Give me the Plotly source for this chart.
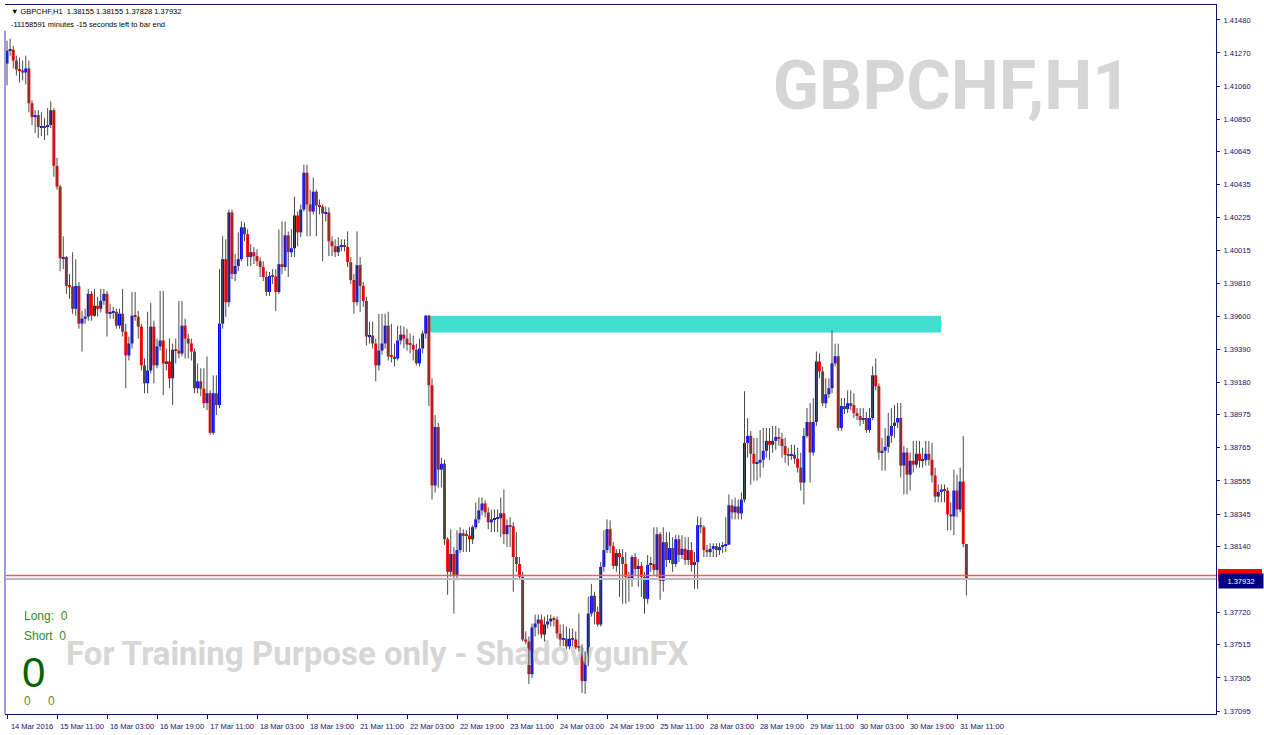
import plotly.graph_objects as go

# ---------------- data (GBPCHF H1) ----------------
first_open = 1.41203
closes = [
1.41285,1.41291,1.41222,1.41165,1.41159,1.41146,1.41172,1.40951,1.40863,1.40876,
1.40800,1.40806,1.40800,1.40813,1.40907,1.40554,1.40422,1.39968,1.39975,1.39792,
1.39788,1.39647,1.39792,1.39553,1.39584,1.39597,1.39742,1.39603,1.39666,1.39647,
1.39697,1.39742,1.39616,1.39622,1.39628,1.39540,1.39616,1.39502,1.39351,1.39427,
1.39603,1.39597,1.39534,1.39288,1.39175,1.39256,1.39534,1.39288,1.39408,1.39446,
1.39301,1.39313,1.39206,1.39387,1.39382,1.39363,1.39540,1.39458,1.39427,1.39376,
1.39143,1.39187,1.39140,1.39048,1.39111,1.38860,1.39111,1.39036,1.39553,1.39962,
1.39689,1.40258,1.39868,1.39918,1.39962,1.40164,1.40120,1.39975,1.40006,1.39981,
1.39949,1.39912,1.39849,1.39754,1.39855,1.39852,1.39754,1.39930,1.39912,1.40113,
1.40006,1.40031,1.40239,1.40132,1.40277,1.40510,1.40309,1.40264,1.40390,1.40302,
1.40296,1.40252,1.40258,1.40075,1.40044,1.40006,1.40044,1.40050,1.40040,1.39943,
1.39830,1.39689,1.39924,1.39792,1.39697,1.39471,1.39477,1.39427,1.39288,1.39382,
1.39427,1.39540,1.39345,1.39342,1.39332,1.39446,1.39483,1.39458,1.39420,1.39418,
1.39387,1.39301,1.39395,1.39490,1.39603,1.39162,1.38526,1.38897,1.38626,1.38664,
1.38185,1.37978,1.38091,1.37959,1.38116,1.38223,1.38211,1.38208,1.38185,1.38261,
1.38311,1.38368,1.38412,1.38355,1.38292,1.38311,1.38315,1.38318,1.38349,1.38217,
1.38274,1.38267,1.38072,1.38028,1.37946,1.37549,1.37536,1.37329,1.37625,1.37650,
1.37675,1.37581,1.37644,1.37663,1.37681,1.37675,1.37587,1.37549,1.37554,1.37505,
1.37554,1.37549,1.37499,1.37495,1.37285,1.37410,1.37713,1.37826,1.37725,1.37644,
1.38010,1.38116,1.38249,1.38141,1.38016,1.38097,1.38072,1.38028,1.37946,1.37927,
1.38072,1.37996,1.38016,1.37946,1.37807,1.38022,1.38028,1.37990,1.38217,1.37921,
1.38166,1.38053,1.38129,1.38028,1.38185,1.38085,1.38124,1.38053,1.38116,1.38022,
1.38040,1.38274,1.38261,1.38116,1.38103,1.38124,1.38141,1.38116,1.38135,1.38148,
1.38150,1.38400,1.38355,1.38393,1.38349,1.38437,1.38796,1.38841,1.38727,1.38664,
1.38670,1.38689,1.38746,1.38809,1.38784,1.38809,1.38834,1.38822,1.38776,1.38721,
1.38714,1.38721,1.38696,1.38639,1.38545,1.38841,1.38929,1.38735,1.38929,1.39313,
1.39250,1.39048,1.39105,1.39143,1.39301,1.39346,1.38891,1.39030,1.39011,1.39048,
1.39036,1.38985,1.38967,1.38941,1.38954,1.38878,1.38954,1.39225,1.39156,1.38735,
1.38746,1.38771,1.38841,1.38904,1.38925,1.38954,1.38652,1.38735,1.38595,1.38683,
1.38658,1.38727,1.38683,1.38687,1.38727,1.38689,1.38589,1.38456,1.38485,1.38500,
1.38494,1.38343,1.38330,1.38494,1.38374,1.38551,1.38155,1.37932]

highs = [
1.41348,1.41361,1.41316,1.41253,1.41241,1.41222,1.41253,1.41222,1.40970,1.40907,
1.40907,1.40894,1.40857,1.40920,1.40964,1.40920,1.40605,1.40434,1.40107,1.39981,
1.39867,1.40006,1.39962,1.39817,1.39634,1.39647,1.39773,1.39760,1.39773,1.39723,
1.39773,1.39773,1.39760,1.39678,1.39660,1.39647,1.39647,1.39773,1.39552,1.39471,
1.39754,1.39754,1.39634,1.39552,1.39332,1.39628,1.39685,1.39571,1.39458,1.39760,
1.39760,1.39395,1.39458,1.39426,1.39458,1.39697,1.39697,1.39584,1.39489,1.39458,
1.39395,1.39300,1.39269,1.39269,1.39345,1.39130,1.39225,1.39225,1.39899,1.40107,
1.40088,1.40277,1.40277,1.39994,1.40132,1.40201,1.40195,1.40151,1.40057,1.40038,
1.40025,1.39975,1.39949,1.39886,1.39880,1.39899,1.39899,1.40151,1.40201,1.40201,
1.40138,1.40151,1.40359,1.40264,1.40309,1.40561,1.40561,1.40403,1.40479,1.40403,
1.40340,1.40309,1.40296,1.40290,1.40107,1.40088,1.40101,1.40088,1.40088,1.40138,
1.39975,1.39867,1.40138,1.39975,1.39817,1.39723,1.39565,1.39565,1.39458,1.39615,
1.39615,1.39615,1.39628,1.39552,1.39426,1.39540,1.39540,1.39534,1.39521,1.39489,
1.39477,1.39426,1.39458,1.39508,1.39609,1.39609,1.39206,1.38973,1.38923,1.38702,
1.38689,1.38198,1.38248,1.38135,1.38242,1.38261,1.38248,1.38242,1.38261,1.38274,
1.38419,1.38450,1.38450,1.38431,1.38387,1.38374,1.38374,1.38374,1.38450,1.38500,
1.38311,1.38324,1.38293,1.38230,1.38072,1.37978,1.37600,1.37568,1.37650,1.37707,
1.37707,1.37707,1.37694,1.37707,1.37707,1.37694,1.37694,1.37644,1.37644,1.37631,
1.37618,1.37618,1.37600,1.37713,1.37518,1.37473,1.37820,1.37902,1.37852,1.37757,
1.38041,1.38242,1.38311,1.38305,1.38167,1.38122,1.38122,1.38122,1.38104,1.37978,
1.38085,1.38097,1.38059,1.38041,1.37978,1.38085,1.38072,1.38261,1.38261,1.38230,
1.38261,1.38230,1.38230,1.38198,1.38211,1.38211,1.38211,1.38198,1.38198,1.38167,
1.38104,1.38330,1.38324,1.38274,1.38148,1.38160,1.38160,1.38160,1.38160,1.38167,
1.38324,1.38469,1.38437,1.38450,1.38437,1.38482,1.39124,1.38954,1.38872,1.38828,
1.38828,1.38878,1.38891,1.38891,1.38891,1.38904,1.38904,1.38891,1.38860,1.38828,
1.38765,1.38784,1.38784,1.38765,1.38734,1.38891,1.39017,1.39049,1.39080,1.39376,
1.39364,1.39282,1.39206,1.39206,1.39508,1.39426,1.39426,1.39080,1.39080,1.39130,
1.39130,1.39111,1.39017,1.39017,1.39017,1.38992,1.39017,1.39282,1.39332,1.39174,
1.38828,1.38891,1.38986,1.39017,1.39036,1.39049,1.39049,1.38778,1.38765,1.38734,
1.38809,1.38809,1.38809,1.38765,1.38809,1.38809,1.38797,1.38639,1.38532,1.38532,
1.38532,1.38513,1.38419,1.38626,1.38595,1.38639,1.38841,1.38155]

lows = [
1.41064,1.41253,1.41172,1.41127,1.41083,1.41096,1.41071,1.40894,1.40812,1.40762,
1.40731,1.40743,1.40718,1.40749,1.40794,1.40485,1.40403,1.39886,1.39899,1.39741,
1.39710,1.39615,1.39603,1.39521,1.39376,1.39552,1.39571,1.39571,1.39597,1.39597,
1.39622,1.39672,1.39471,1.39584,1.39584,1.39521,1.39521,1.39471,1.39143,1.39319,
1.39395,1.39571,1.39458,1.39256,1.39111,1.39111,1.39237,1.39174,1.39269,1.39382,
1.39099,1.39256,1.39143,1.39036,1.39300,1.39332,1.39345,1.39332,1.39332,1.39319,
1.39111,1.39111,1.39093,1.39017,1.39004,1.38847,1.38847,1.38973,1.39017,1.39521,
1.39597,1.39660,1.39836,1.39823,1.39886,1.39949,1.40075,1.39918,1.39918,1.39931,
1.39918,1.39849,1.39823,1.39729,1.39729,1.39805,1.39634,1.39741,1.39867,1.39886,
1.39849,1.39975,1.39975,1.40044,1.40101,1.40264,1.40107,1.40107,1.40246,1.40107,
1.40246,1.39949,1.40201,1.39981,1.39981,1.39975,1.39981,1.40012,1.40012,1.39912,
1.39805,1.39615,1.39666,1.39628,1.39660,1.39414,1.39426,1.39395,1.39187,1.39256,
1.39357,1.39395,1.39319,1.39307,1.39282,1.39319,1.39420,1.39395,1.39382,1.39364,
1.39319,1.39288,1.39282,1.39364,1.39458,1.39030,1.38437,1.38482,1.38513,1.38513,
1.38148,1.37833,1.37946,1.37713,1.37933,1.38097,1.38104,1.38104,1.38104,1.38154,
1.38248,1.38286,1.38337,1.38324,1.38248,1.38230,1.38230,1.38230,1.38198,1.38154,
1.38135,1.38135,1.37852,1.37978,1.37927,1.37537,1.37518,1.37266,1.37303,1.37568,
1.37581,1.37555,1.37537,1.37618,1.37631,1.37631,1.37555,1.37505,1.37505,1.37486,
1.37486,1.37505,1.37486,1.37473,1.37209,1.37203,1.37379,1.37694,1.37644,1.37631,
1.37631,1.37978,1.38097,1.38097,1.37996,1.37978,1.37820,1.37776,1.37776,1.37789,
1.37883,1.37959,1.37883,1.37820,1.37713,1.37776,1.37978,1.37959,1.37946,1.37801,
1.37852,1.38009,1.38034,1.37978,1.38009,1.38041,1.38059,1.38022,1.38022,1.37978,
1.37870,1.37870,1.38223,1.38072,1.38072,1.38072,1.38072,1.38072,1.38085,1.38097,
1.38104,1.38242,1.38311,1.38311,1.38311,1.38311,1.38419,1.38702,1.38532,1.38557,
1.38557,1.38576,1.38639,1.38702,1.38689,1.38734,1.38752,1.38778,1.38702,1.38671,
1.38652,1.38689,1.38664,1.38608,1.38494,1.38406,1.38828,1.38545,1.38715,1.38904,
1.39206,1.39030,1.39017,1.39080,1.39111,1.39282,1.38872,1.38872,1.38979,1.38986,
1.39004,1.38954,1.38941,1.38904,1.38916,1.38860,1.38860,1.38941,1.39130,1.38689,
1.38620,1.38620,1.38734,1.38797,1.38828,1.38891,1.38576,1.38469,1.38469,1.38494,
1.38608,1.38639,1.38639,1.38639,1.38652,1.38652,1.38545,1.38419,1.38419,1.38419,
1.38419,1.38242,1.38242,1.38211,1.38324,1.38356,1.38135,1.37828]

date_labels = ["14 Mar 2016", "15 Mar 11:00", "16 Mar 03:00", "16 Mar 19:00",
               "17 Mar 11:00", "18 Mar 03:00", "18 Mar 19:00", "21 Mar 11:00",
               "22 Mar 03:00", "22 Mar 19:00", "23 Mar 11:00", "24 Mar 03:00",
               "24 Mar 19:00", "25 Mar 11:00", "28 Mar 03:00", "28 Mar 19:00",
               "29 Mar 11:00", "30 Mar 03:00", "30 Mar 19:00", "31 Mar 11:00"]
bars_per_label = 16

price_ticks = [1.41480, 1.41270, 1.41060, 1.40850, 1.40645, 1.40435, 1.40225,
               1.40015, 1.39810, 1.39600, 1.39390, 1.39180, 1.38975, 1.38765,
               1.38555, 1.38345, 1.38140, 1.37720, 1.37515, 1.37305, 1.37095]

bid_price = 1.37932
ask_price = 1.37955
zone_top, zone_bottom = 1.39603, 1.39496
zone_start_bar, zone_end_bar = 134.7, 298.9

header_line1 = "\u25bc GBPCHF,H1  1.38155 1.38155 1.37828 1.37932"
header_line2 = "-11158591 minutes -15 seconds left to bar end"

# ---------------- derived ----------------
n = len(closes)
idx = list(range(n))
opens = [first_open] + closes[:-1]
highs = [max(h, o, c) for h, o, c in zip(highs, opens, closes)]
lows = [min(l, o, c) for l, o, c in zip(lows, opens, closes)]

BLUE, RED = "#0000FF", "#FF0000"
body_base = [min(o, c) for o, c in zip(opens, closes)]
body_h = [max(abs(c - o), 0.00007) for o, c in zip(opens, closes)]
body_col = [BLUE if c > o else RED for o, c in zip(opens, closes)]

wx, wy = [], []
for i in idx:
    wx += [i, i, None]
    wy += [lows[i], highs[i], None]

# ---------------- geometry helpers (layout only) ----------------
W, H = 1264, 735
L, R, T, B = 5, 1216, 4, 718
px_per_bar = 3.125
first_bar_px = 7
x0 = (L - first_bar_px) / px_per_bar
x1 = (R - first_bar_px) / px_per_bar
pr_per_px = (price_ticks[0] - price_ticks[-1]) / (715 - 19)
y_top = price_ticks[0] + (19 - T) * pr_per_px
y_bot = price_ticks[0] - (B - 19) * pr_per_px


def pxx(x):
    return (x - L) / (R - L)


def pxy(y):
    return (B - y) / (B - T)


def bar_at(x):
    return (x - first_bar_px) / px_per_bar


def price_at(y):
    return price_ticks[0] - (y - 19) * pr_per_px


WM = "Roboto, Liberation Sans, Arial, sans-serif"
SANS = "Liberation Sans, Arial, sans-serif"
NAVY = "#10106E"

fig = go.Figure()

# watermarks (behind the candles)
fig.add_trace(go.Scatter(
    x=[bar_at(952)], y=[price_at(92)], mode="text", text=["GBPCHF,H1"],
    textposition="middle center",
    textfont=dict(family=WM, size=68, color="#D6D6D6", weight="bold"),
    hoverinfo="skip", cliponaxis=False))
fig.add_trace(go.Scatter(
    x=[bar_at(66)], y=[price_at(660)], mode="text",
    text=["For Training Purpose only - ShadowgunFX"],
    textposition="middle right",
    textfont=dict(family=WM, size=33, color="#D6D6D6", weight="bold"),
    hoverinfo="skip", cliponaxis=False))

# wicks
fig.add_trace(go.Scatter(x=wx, y=wy, mode="lines",
                         line=dict(color="#4A4A4A", width=1),
                         hoverinfo="skip"))
# bodies
fig.add_trace(go.Bar(x=idx, y=body_h, base=body_base, width=0.95,
                     marker=dict(color=body_col, line=dict(width=0)),
                     hoverinfo="skip"))

shapes = [
    dict(type="rect", xref="x", yref="y", x0=zone_start_bar, x1=zone_end_bar,
         y0=zone_bottom, y1=zone_top, fillcolor="#40E0D0",
         line=dict(width=0), layer="below"),
    dict(type="line", xref="paper", yref="y", x0=0, x1=1, y0=ask_price,
         y1=ask_price, line=dict(color="#FF5A5A", width=1.5)),
    dict(type="line", xref="paper", yref="y", x0=0, x1=1, y0=bid_price,
         y1=bid_price, line=dict(color="#B4BCC8", width=2)),
    dict(type="line", xref="paper", yref="paper", x0=0, x1=0, y0=0,
         y1=pxy(30), line=dict(color="#9C9CE0", width=2)),
    # ask price marker on the axis (mostly hidden behind the bid label)
    dict(type="rect", xref="paper", yref="paper", x0=pxx(1218),
         x1=pxx(1262), y0=pxy(584), y1=pxy(572), fillcolor="#FF0000",
         line=dict(width=0), layer="above"),
]

ann = [
    dict(x=pxx(9), y=pxy(11), xref="paper", yref="paper", text=header_line1,
         showarrow=False, xanchor="left", yanchor="middle",
         font=dict(family=SANS, size=7.5, color="#000000")),
    dict(x=pxx(9), y=pxy(24), xref="paper", yref="paper", text=header_line2,
         showarrow=False, xanchor="left", yanchor="middle",
         font=dict(family=SANS, size=7.5, color="#000000")),
    # bid price label on the axis
    dict(x=pxx(1218), y=bid_price, xref="paper", yref="y",
         text="%.5f" % bid_price, showarrow=False, xanchor="left",
         yanchor="top", yshift=6, bgcolor="#000080", width=42, height=12,
         font=dict(family=SANS, size=7.5, color="#FFFFFF")),
    # trade panel
    dict(x=pxx(22), y=pxy(619), xref="paper", yref="paper", text="Long:  0",
         showarrow=False, xanchor="left", yanchor="middle",
         font=dict(family=SANS, size=12, color="#2E8B2E")),
    dict(x=pxx(22), y=pxy(639), xref="paper", yref="paper", text="Short  0",
         showarrow=False, xanchor="left", yanchor="middle",
         font=dict(family=SANS, size=12, color="#2E8B2E")),
    dict(x=pxx(20), y=pxy(676), xref="paper", yref="paper", text="0",
         showarrow=False, xanchor="left", yanchor="middle",
         font=dict(family=SANS, size=42, color="#006400")),
    dict(x=pxx(22), y=pxy(705), xref="paper", yref="paper", text="0",
         showarrow=False, xanchor="left", yanchor="middle",
         font=dict(family=SANS, size=12, color="#6B8E23")),
    dict(x=pxx(46), y=pxy(705), xref="paper", yref="paper", text="0",
         showarrow=False, xanchor="left", yanchor="middle",
         font=dict(family=SANS, size=12, color="#6B8E23")),
]

fig.update_layout(
    width=W, height=H, autosize=False,
    margin=dict(l=L, r=W - R, t=T, b=H - B, pad=0),
    paper_bgcolor="#FFFFFF", plot_bgcolor="#FFFFFF",
    showlegend=False, shapes=shapes, annotations=ann,
    xaxis=dict(range=[x0, x1], showgrid=False, zeroline=False,
               tickmode="array",
               tickvals=[k * bars_per_label for k in range(len(date_labels))],
               ticktext=date_labels, ticks="outside", ticklen=4,
               tickcolor=NAVY, showline=True, linecolor=NAVY, linewidth=1,
               mirror=True, ticklabelshift=25, ticklabelstandoff=1,
               tickfont=dict(family=SANS, size=7.5, color=NAVY)),
    yaxis=dict(range=[y_bot, y_top], side="right", showgrid=False,
               zeroline=False, tickmode="array", tickvals=price_ticks,
               tickformat=".5f", ticks="outside", ticklen=3, tickcolor=NAVY,
               showline=True, linecolor=NAVY, linewidth=1,
               ticklabelstandoff=2,
               tickfont=dict(family=SANS, size=7.5, color=NAVY)),
)

fig.write_html("out.html", config={"displayModeBar": False},
               post_script="document.body.style.margin='0';")
